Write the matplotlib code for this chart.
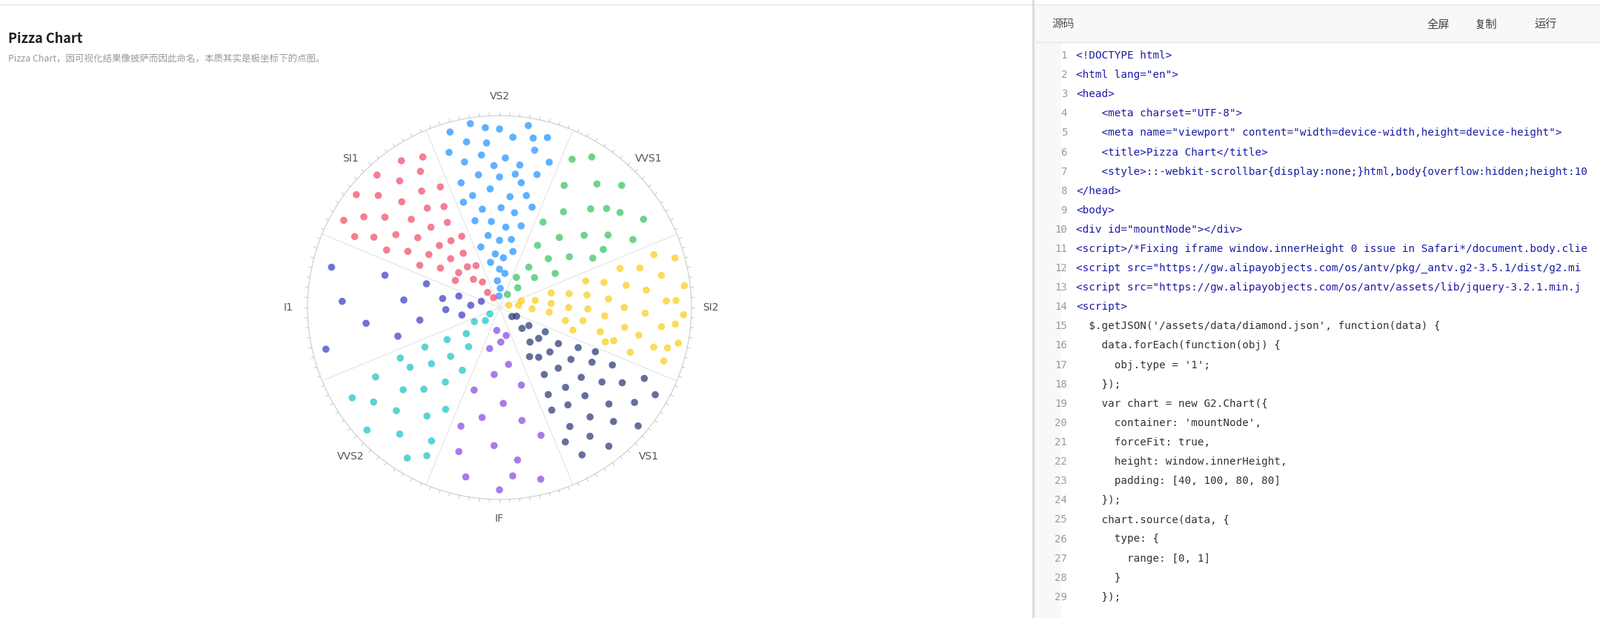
import matplotlib
matplotlib.use("Agg")
import matplotlib.pyplot as plt
import numpy as np

CJK = ["Noto Sans CJK SC", "Noto Sans CJK JP", "Noto Sans CJK TC", "Noto Sans CJK KR", "DejaVu Sans"]

categories = ["VS2", "VVS1", "SI2", "VS1", "IF", "VVS2", "I1", "SI1"]
colors = ["#1890FF", "#2FC25B", "#FACC14", "#223273", "#8543E0", "#13C2C2", "#3436C7", "#F04864"]

# points: (offset within sector -0.5..0.5, radius 0..1), read approximately
pts_VS2 = [(-0.35,0.95),(-0.2,0.97),(0.0,0.93),(0.2,0.96),(0.35,0.92),(-0.4,0.85),(-0.25,0.88),(-0.1,0.86),(0.1,0.89),(0.28,0.84),
           (0.42,0.8),(-0.3,0.78),(-0.15,0.8),(0.05,0.78),(0.18,0.75),(0.35,0.72),(-0.38,0.68),(-0.2,0.7),(0.0,0.68),(0.22,0.66),
           (-0.3,0.6),(-0.1,0.62),(0.12,0.58),(0.3,0.6),(-0.22,0.52),(0.02,0.52),(0.2,0.5),(-0.35,0.47),(-0.12,0.45),(0.1,0.42),
           (0.33,0.44),(-0.2,0.38),(0.0,0.35),(0.22,0.36),(-0.1,0.28),(0.1,0.26),(-0.25,0.24),(0.0,0.2),(0.2,0.18),(-0.1,0.14),
           (0.05,0.1),(-0.05,0.06),(0.3,0.3),(-0.38,0.33),(0.4,0.55),(-0.42,0.58),(0.15,0.7),(-0.05,0.74),(0.25,0.9),(-0.1,0.94)]
pts_VVS1 = [(-0.3,0.92),(0.0,0.9),(0.3,0.88),(-0.15,0.82),(0.15,0.8),(0.4,0.78),(-0.38,0.72),(-0.05,0.7),(0.25,0.68),(-0.25,0.6),
            (0.1,0.58),(0.38,0.55),(-0.4,0.5),(-0.1,0.48),(0.2,0.45),(-0.3,0.38),(0.0,0.36),(0.3,0.34),(-0.2,0.26),(0.1,0.24),
            (-0.35,0.18),(-0.05,0.14),(-0.3,0.08),(0.35,0.62),(-0.42,0.86),(0.05,0.76)]
pts_SI2 = [(-0.35,0.95),(-0.15,0.97),(0.05,0.96),(0.25,0.95),(0.4,0.9),(-0.42,0.85),(-0.25,0.86),(-0.05,0.87),(0.15,0.85),(0.32,0.83),
           (-0.35,0.76),(-0.15,0.77),(0.05,0.76),(0.25,0.74),(0.42,0.72),(-0.4,0.66),(-0.22,0.67),(0.0,0.65),(0.2,0.66),(0.36,0.62),
           (-0.3,0.56),(-0.1,0.57),(0.1,0.55),(0.3,0.54),(-0.38,0.47),(-0.18,0.46),(0.02,0.46),(0.2,0.44),(-0.25,0.37),(0.0,0.36),
           (0.25,0.35),(-0.35,0.28),(-0.1,0.27),(0.12,0.26),(-0.25,0.19),(0.05,0.17),(-0.38,0.12),(-0.15,0.1),(-0.3,0.05),(0.38,0.4),
           (0.4,0.58),(-0.05,0.92),(0.12,0.92),(0.3,0.9)]
pts_VS1 = [(-0.35,0.93),(-0.1,0.95),(0.15,0.92),(0.35,0.88),(-0.42,0.84),(-0.22,0.86),(0.0,0.84),(0.22,0.82),(-0.3,0.75),(-0.08,0.76),
           (0.12,0.74),(0.32,0.72),(-0.4,0.66),(-0.2,0.66),(0.02,0.64),(0.22,0.62),(-0.32,0.56),(-0.1,0.56),(0.12,0.54),(0.35,0.52),
           (-0.4,0.46),(-0.2,0.46),(0.02,0.44),(0.25,0.42),(-0.3,0.36),(-0.08,0.35),(0.15,0.33),(-0.38,0.27),(-0.15,0.26),(0.08,0.24),
           (-0.3,0.18),(-0.05,0.16),(-0.4,0.1),(-0.2,0.08),(0.4,0.6),(0.42,0.78),(-0.45,0.55),(0.3,0.3)]
pts_IF = [(-0.3,0.92),(0.0,0.95),(0.25,0.9),(-0.15,0.8),(0.35,0.78),(-0.4,0.7),(0.05,0.72),(-0.25,0.6),(0.2,0.58),(-0.05,0.5),
          (0.38,0.45),(-0.35,0.42),(0.1,0.35),(-0.2,0.3),(0.3,0.22),(-0.05,0.18),(0.15,0.12),(-0.3,0.15),(0.4,0.65),(-0.1,0.88)]
pts_VVS2 = [(-0.3,0.92),(0.05,0.94),(0.3,0.9),(-0.15,0.84),(0.18,0.82),(-0.4,0.78),(0.0,0.76),(0.35,0.74),(-0.25,0.68),(0.1,0.66),
            (-0.38,0.6),(-0.05,0.58),(0.25,0.56),(-0.2,0.48),(0.12,0.46),(0.38,0.44),(-0.32,0.38),(0.0,0.36),(0.3,0.32),(-0.15,0.26),
            (0.15,0.22),(0.35,0.15),(0.05,0.1),(0.25,0.06),(-0.42,0.86),(0.4,0.58)]
pts_I1 = [(-0.3,0.93),(0.3,0.9),(0.05,0.82),(-0.15,0.7),(0.35,0.62),(-0.35,0.55),(0.1,0.5),(0.4,0.4),(-0.2,0.42),(0.2,0.3),
          (-0.05,0.28),(0.35,0.22),(0.1,0.15),(-0.25,0.2),(0.42,0.1)]
pts_SI1 = [(-0.35,0.93),(-0.15,0.95),(0.05,0.94),(0.25,0.92),(0.4,0.88),(-0.42,0.84),(-0.25,0.85),(-0.05,0.86),(0.15,0.84),(0.33,0.82),
           (-0.35,0.75),(-0.15,0.76),(0.05,0.75),(0.25,0.73),(0.42,0.7),(-0.4,0.66),(-0.22,0.66),(0.0,0.65),(0.2,0.64),(0.36,0.6),
           (-0.3,0.56),(-0.1,0.56),(0.1,0.55),(0.3,0.52),(-0.38,0.47),(-0.18,0.46),(0.02,0.45),(0.2,0.43),(-0.25,0.37),(0.0,0.36),
           (0.25,0.34),(-0.1,0.28),(0.15,0.27),(0.35,0.25),(0.05,0.2),(0.25,0.16),(0.15,0.1),(0.3,0.06),(-0.3,0.27),(0.38,0.42)]
all_pts = [pts_VS2, pts_VVS1, pts_SI2, pts_VS1, pts_IF, pts_VVS2, pts_I1, pts_SI1]

code_lines = [
    '<!DOCTYPE html>',
    '<html lang="en">',
    '<head>',
    '    <meta charset="UTF-8">',
    '    <meta name="viewport" content="width=device-width,height=device-height">',
    '    <title>Pizza Chart</title>',
    '    <style>::-webkit-scrollbar{display:none;}html,body{overflow:hidden;height:10',
    '</head>',
    '<body>',
    '<div id="mountNode"></div>',
    '<script>/*Fixing iframe window.innerHeight 0 issue in Safari*/document.body.clie',
    '<script src="https://gw.alipayobjects.com/os/antv/pkg/_antv.g2-3.5.1/dist/g2.mi',
    '<script src="https://gw.alipayobjects.com/os/antv/assets/lib/jquery-3.2.1.min.j',
    '<script>',
    "  $.getJSON('/assets/data/diamond.json', function(data) {",
    '    data.forEach(function(obj) {',
    "      obj.type = '1';",
    '    });',
    '    var chart = new G2.Chart({',
    "      container: 'mountNode',",
    '      forceFit: true,',
    '      height: window.innerHeight,',
    '      padding: [40, 100, 80, 80]',
    '    });',
    '    chart.source(data, {',
    '      type: {',
    '        range: [0, 1]',
    '      }',
    '    });',
]

W, H = 2159, 834
fig = plt.figure(figsize=(W/100, H/100), dpi=100)
fig.patch.set_facecolor("white")

fig.add_artist(plt.Line2D([0, 1], [1-6/H, 1-6/H], color="#e8e8e8", lw=1))
fig.text(11/W, 1-53/H, "Pizza Chart", fontsize=13, fontweight="bold", color="#222", va="center", fontfamily=CJK)
fig.text(11/W, 1-80/H, "Pizza Chart，因可视化结果像披萨而因此命名，本质其实是极坐标下的点图。", fontsize=9,
         color="#999", va="center", fontfamily=CJK)

px = 1394/W
fig.add_artist(plt.Rectangle((px, 1-57/H), 1-px, 51/H, transform=fig.transFigure, color="#f7f8fa", ec="none"))
fig.add_artist(plt.Rectangle((px, 0), 38/W, 1-57/H, transform=fig.transFigure, color="#f7f8fa", ec="none"))
fig.add_artist(plt.Line2D([px, px], [0, 1], color="#d9d9d9", lw=2))
fig.add_artist(plt.Line2D([px, 1], [1-57/H, 1-57/H], color="#e8e8e8", lw=1))
fig.text(1419/W, 1-32/H, "源码", fontsize=11, color="#555", va="center", fontfamily=CJK)
for xx, t in [(1925, "全屏"), (1990, "复制"), (2070, "运行")]:
    fig.text(xx/W, 1-33/H, t, fontsize=11, color="#444", va="center", fontfamily=CJK)
for i, line in enumerate(code_lines):
    y = 1 - (75 + i*26.1)/H
    fig.text(1440/W, y, str(i+1), fontsize=10, color="#999", va="center", ha="right", fontfamily="DejaVu Sans Mono")
    fig.text(1452/W, y, line, fontsize=10.3, color="#1a1aa6" if line.strip().startswith("<") else "#333",
             va="center", fontfamily="DejaVu Sans Mono")

cx, cy, R = 674, 415, 259
ax = fig.add_axes([(cx-R)/W, 1-(cy+R)/H, 2*R/W, 2*R/H], projection="polar")
ax.set_theta_zero_location("N")
ax.set_theta_direction(-1)
step = 2*np.pi/len(categories)
for i, (pts, c) in enumerate(zip(all_pts, colors)):
    th = [i*step + o*step for o, r in pts]
    rr = [r for o, r in pts]
    ax.scatter(th, rr, s=48, color=c, alpha=0.7, edgecolors="none", zorder=3)
ax.set_ylim(0, 1)
ax.set_yticks([])
ax.set_xticks([i*step for i in range(len(categories))])
ax.set_xticklabels(categories, fontsize=10, color="#555")
ax.tick_params(axis="x", pad=8)
ax.xaxis.grid(False)
for i in range(len(categories)):
    b = (i+0.5)*step
    ax.plot([b, b], [0, 1], color="#e8e8e8", lw=1, zorder=1)
ax.spines["polar"].set_color("#cccccc")
for t in np.linspace(0, 2*np.pi, 120, endpoint=False):
    ax.plot([t, t], [1.0, 1.015], color="#cccccc", lw=0.8, clip_on=False)
fig.savefig("out.png", dpi=100)
